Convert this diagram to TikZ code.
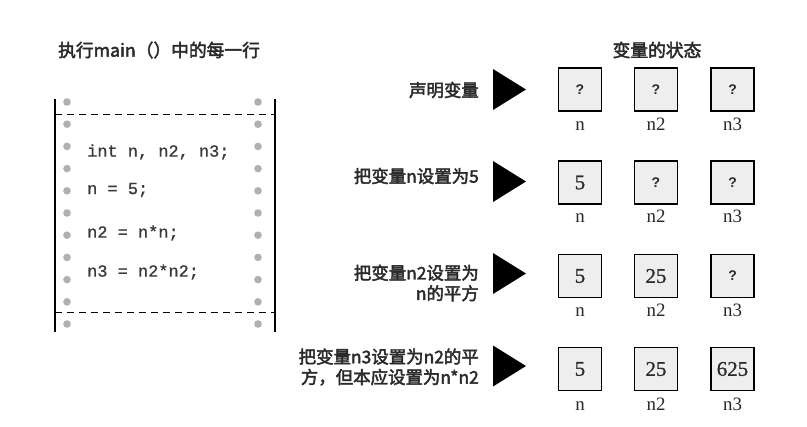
\documentclass[tikz,border=0pt]{standalone}
\usepackage{fontspec}
\setmainfont{Liberation Serif}
\setmonofont{Liberation Mono}
\newfontfamily\cjk[FakeBold=2.5]{Noto Sans CJK SC}
\newfontfamily\codefont[FakeBold=1]{Liberation Mono}
\newfontfamily\numfont[FakeBold=0.8]{Liberation Serif}
\newfontfamily\qfont{Liberation Sans}
\definecolor{txt}{HTML}{2A2A2A}
\definecolor{code}{HTML}{3A3A3A}
\definecolor{dotc}{HTML}{B0B0B0}
\definecolor{boxfill}{HTML}{EEEEEE}
\begin{document}
\begin{tikzpicture}[x=1bp,y=-1bp,
  title/.style={font=\cjk\fontsize{17.8}{20}\selectfont,text=txt,inner sep=0},
  codeline/.style={font=\codefont\fontsize{17}{18}\selectfont,text=code,anchor=west,inner sep=0},
  steplabel/.style={font=\cjk\fontsize{17.5}{20.5}\selectfont,text=txt,anchor=east,align=right,inner sep=0},
  varbox/.style={draw=black,line width=1.8bp,fill=boxfill,minimum width=43bp,minimum height=43bp,inner sep=0,font=\numfont\fontsize{21}{22}\selectfont,text=txt},
  qbox/.style={varbox,font=\qfont\bfseries\fontsize{14}{16}\selectfont},
  varname/.style={font=\fontsize{19}{20}\selectfont,anchor=base,inner sep=0,text=txt},
  holes/.style={fill=dotc},
  tri/.style={fill=black}
]
\useasboundingbox (0,0) rectangle (807,426);
\fill[white] (0,0) rectangle (807,426);

% titles
\node[title,anchor=west] (ltitle) at (58,50) {执行main（）中的每一行};
\node[title] (rtitle) at (657,50) {变量的状态};

% code strip
\draw[line width=1.1bp] (55,99) -- (55,332);
\draw[line width=1.1bp] (275,99) -- (275,332);
\draw[line width=1bp,dash pattern=on 7bp off 5bp] (55,114) -- (275,114);
\draw[line width=1bp,dash pattern=on 7bp off 5bp] (55,312) -- (275,312);
\foreach \i in {0,...,10}{
  \fill[holes] (67,102+\i*22.2) circle (3.8);
  \fill[holes] (258,102+\i*22.2) circle (3.8);
}
\node[codeline] (c1) at (87,152) {int n, n2, n3;};
\node[codeline] (c2) at (87,190) {n = 5;};
\node[codeline] (c3) at (87,233) {n2 = n*n;};
\node[codeline] (c4) at (87,272) {n3 = n2*n2;};

% step labels
\node[steplabel] (s1) at (479,90) {声明变量};
\node[steplabel] (s2) at (479,176) {把变量n设置为5};
\node[steplabel] (s3) at (479,283) {把变量n2设置为\\n的平方};
\node[steplabel] (s4) at (479,367) {把变量n3设置为n2的平\\方，但本应设置为n*n2};

% triangles
\foreach \y in {89.5,181.5,273.5,366}{
  \fill[tri] (493,\y-20.5) -- (526,\y) -- (493,\y+20.5) -- cycle;
}

% row 1
\node[qbox] (a1) at (580,89.5) {?};
\node[qbox] (b1) at (656,89.5) {?};
\node[qbox] (d1) at (732.5,89.5) {?};
% row 2
\node[varbox] (a2) at (580,182.5) {5};
\node[qbox] (b2) at (656,182.5) {?};
\node[qbox] (d2) at (732.5,182.5) {?};
% row 3
\node[varbox] (a3) at (580,276) {5};
\node[varbox] (b3) at (656,276) {25};
\node[qbox] (d3) at (732.5,276) {?};
% row 4
\node[varbox] (a4) at (580,369) {5};
\node[varbox] (b4) at (656,369) {25};
\node[varbox] (d4) at (732.5,369) {625};

% variable names
\foreach \r/\yy in {1/130,2/222,3/316,4/410}{
  \node[varname] (na\r) at (580,\yy) {n};
  \node[varname] (nb\r) at (656,\yy) {n2};
  \node[varname] (nd\r) at (732.5,\yy) {n3};
}
\end{tikzpicture}
\end{document}
